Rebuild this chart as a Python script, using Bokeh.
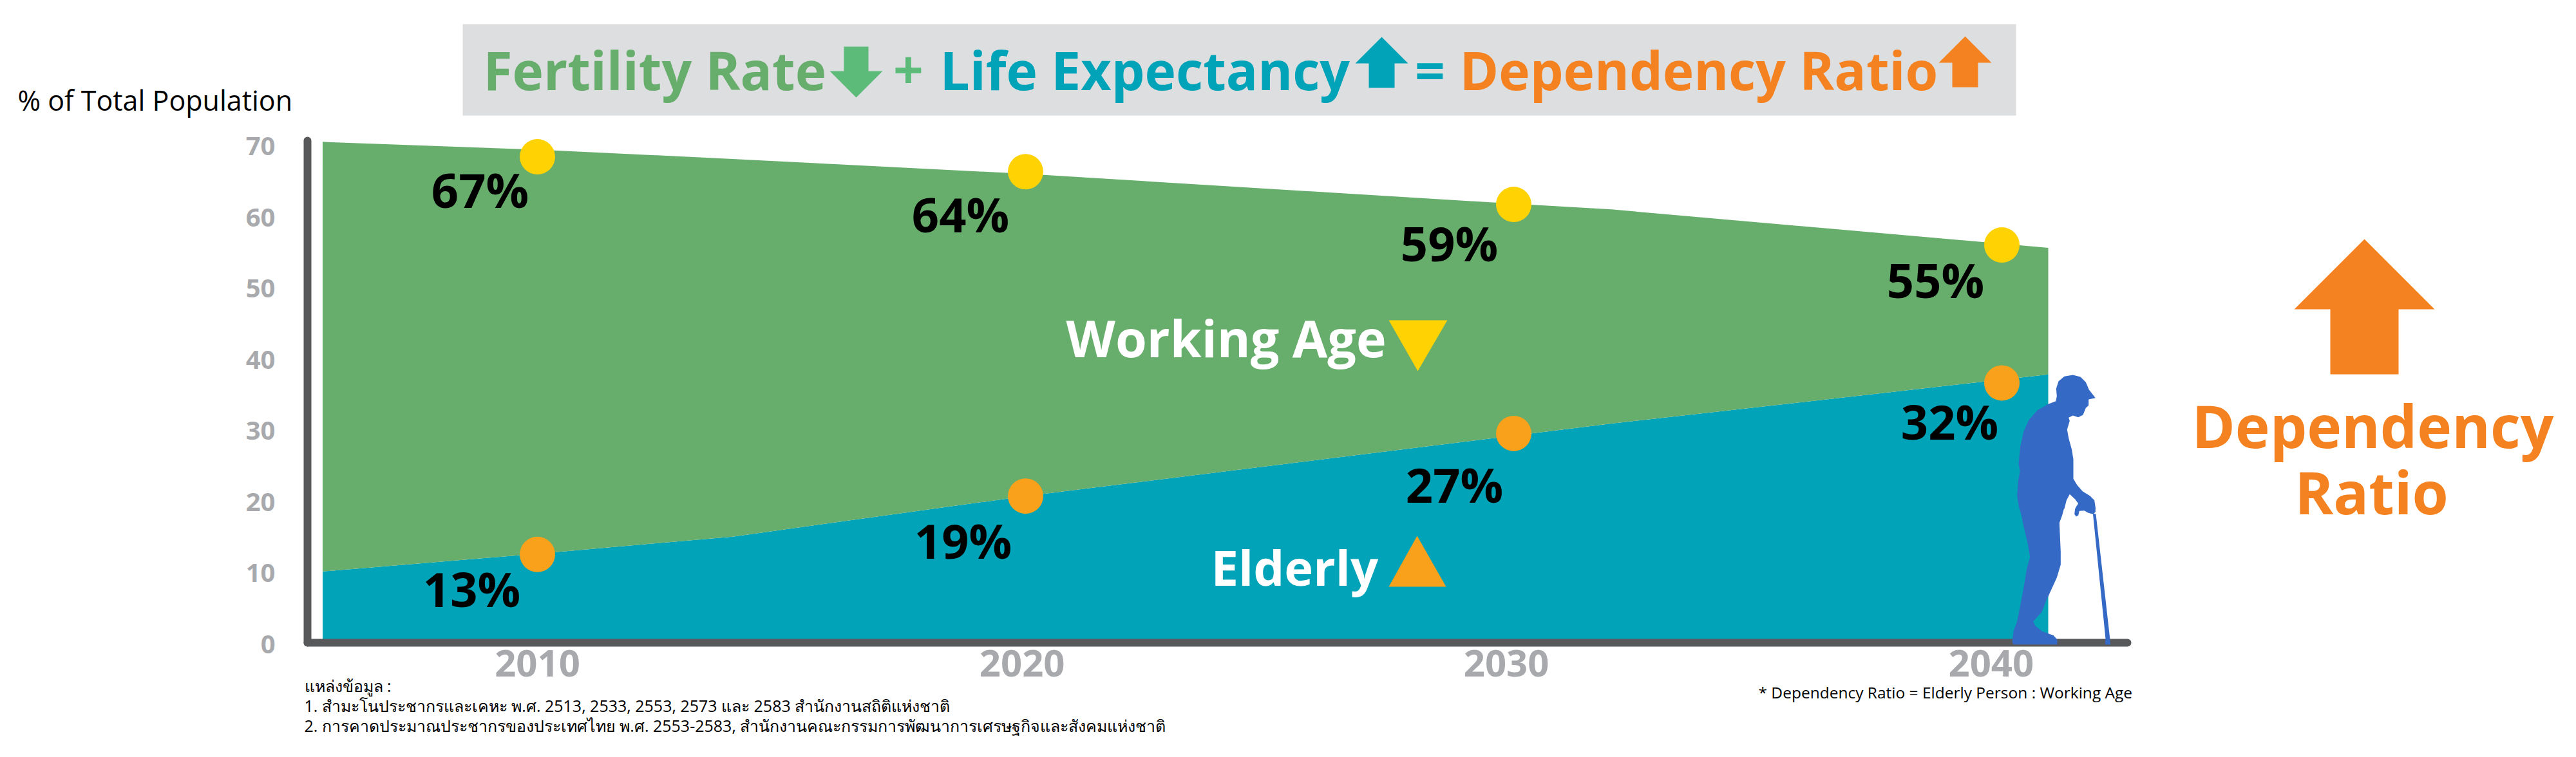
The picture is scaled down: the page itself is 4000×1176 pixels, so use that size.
from bokeh.plotting import figure
from bokeh.embed import file_html
from bokeh.resources import INLINE
from bokeh.models import Label, PolyAnnotation, FixedTicker, Range1d, LinearAxis

# ---- data
area_years = [2005.6, 2010, 2014, 2020, 2030, 2032, 2040.95]
elderly_area = [10.2, 12.7, 15.1, 20.8, 29.3, 31.0, 37.9]
working_top_area = [70.6, 69.5, 68.2, 66.1, 61.9, 61.1, 55.7]
years = [2010, 2020, 2030, 2040]
year_label_positions = [2010, 2019.93, 2029.85, 2039.78]
year_labels = ["2010", "2020", "2030", "2040"]
working_dots = [68.5, 66.4, 61.8, 56.1]
elderly_dots = [12.6, 20.8, 29.6, 36.7]
working_labels = ["67%", "64%", "59%", "55%"]
elderly_labels = ["13%", "19%", "27%", "32%"]
y_ticks = [0, 10, 20, 30, 40, 50, 60, 70]

GREEN, TEAL, ORANGE, AMBER, YELLOW = "#67AD6B", "#00A3B7", "#F58220", "#F9A11B", "#FFD204"
ARROW_GREEN, DARK, GRAY, BAND, BLUE = "#5DBB7A", "#58595B", "#A7A9AC", "#DCDEE0", "#3569C6"
FONT = "Open Sans"

W, H = 3984, 1160
PX_YEAR, X0 = 75.8, 834
PX_UNIT, Y0 = 11.05, 1000
BASE = 0.37   # Label's alphabetic anchor sits this many font sizes above the given y
def dx(px): return 2010 + (px - X0) / PX_YEAR
def dy(py): return (Y0 - py) / PX_UNIT

p = figure(width=W, height=H, output_backend="svg", toolbar_location=None,
           x_range=Range1d(dx(0), dx(W)), y_range=Range1d(dy(H), dy(0)),
           x_axis_type=None, y_axis_type=None, min_border=0)
p.outline_line_color = None
p.background_fill_color = "white"

p.varea(area_years, [0] * len(area_years), elderly_area, fill_color=TEAL)
p.varea(area_years, elderly_area, working_top_area, fill_color=GREEN)
p.scatter(years, working_dots, size=55, color=YELLOW, line_color=None)
p.scatter(years, elderly_dots, size=55, color=AMBER, line_color=None)

xaxis = LinearAxis(fixed_location=dy(998), bounds=(dx(477), dx(3303)), ticker=FixedTicker(ticks=year_label_positions),
                   major_label_overrides=dict(zip(year_label_positions, year_labels)))
yaxis = LinearAxis(fixed_location=dx(477), bounds=(dy(998), dy(218)), ticker=FixedTicker(ticks=y_ticks))
for ax in (xaxis, yaxis):
    ax.axis_line_color = DARK
    ax.axis_line_width = 12
    ax.axis_line_cap = "round"
    ax.major_tick_line_color = None
    ax.minor_tick_line_color = None
    ax.major_tick_out = 0
    ax.major_tick_in = 0
    ax.major_label_text_color = GRAY
    ax.major_label_text_font = FONT
    ax.major_label_text_font_style = "bold"
xaxis.major_label_text_font_size = "58px"
yaxis.major_label_text_font_size = "40px"
xaxis.major_label_standoff = 11
yaxis.major_label_standoff = 50
p.add_layout(xaxis, "below")
p.add_layout(yaxis, "left")

def poly(points, color):
    p.add_layout(PolyAnnotation(xs=[dx(a) for a, _ in points], ys=[dy(b) for _, b in points],
                                fill_color=color, fill_alpha=1, line_color=None, level="overlay"))

def text(px, py, s, size, color="black", style="normal", align="left"):
    p.add_layout(Label(x=dx(px), y=dy(py - BASE * size), text=s, text_font=FONT, text_font_size=f"{size}px",
                       text_font_style=style, text_color=color, text_align=align,
                       text_baseline="alphabetic", level="overlay"))

def arrow(cx, tip, neck, end, head, shaft, color):
    poly([(cx, tip), (cx + head, neck), (cx + shaft, neck), (cx + shaft, end),
          (cx - shaft, end), (cx - shaft, neck), (cx - head, neck)], color)

# header band
poly([(718, 37), (3130, 37), (3130, 179), (718, 179)], BAND)
text(750, 138, "Fertility Rate", 82, GREEN, "bold")
arrow(1329, 151, 110, 72, 41, 19, ARROW_GREEN)
text(1410, 138, "+", 82, ARROW_GREEN, "bold", "center")
text(1459, 138, "Life Expectancy", 82, TEAL, "bold")
arrow(2145, 57, 98, 136, 41, 20, TEAL)
text(2220, 138, "=", 82, TEAL, "bold", "center")
text(2266, 138, "Dependency Ratio", 82, ORANGE, "bold")
arrow(3051, 56, 97, 135, 41, 20, ORANGE)

text(27, 171, "% of Total Population", 43)

# percentage labels, tied to their dots
PCT = 74
for yr, v, s, (ox, oy) in zip(years, working_dots, working_labels, [(-89, 78), (-101, 93), (-100, 87), (-103, 81)]):
    p.add_layout(Label(x=yr, y=v, text=s, x_offset=ox, y_offset=-oy + BASE * PCT, text_align="center", text_baseline="alphabetic",
                       text_font=FONT, text_font_style="bold", text_font_size=f"{PCT}px", text_color="black", level="overlay"))
for yr, v, s, (ox, oy) in zip(years, elderly_dots, elderly_labels, [(-102, 81), (-97, 96), (-92, 106), (-81, 87)]):
    p.add_layout(Label(x=yr, y=v, text=s, x_offset=ox, y_offset=-oy + BASE * PCT, text_align="center", text_baseline="alphabetic",
                       text_font=FONT, text_font_style="bold", text_font_size=f"{PCT}px", text_color="black", level="overlay"))

# series names
text(1655, 553, "Working Age", 79, "white", "bold")
poly([(2156, 497), (2247, 497), (2201, 576)], YELLOW)
text(1880, 908, "Elderly", 76, "white", "bold")
poly([(2156, 911), (2245, 911), (2200, 832)], AMBER)

# man, traced on zooms of the picture
legs_left = [(42,622),(48,570),(65,525),(80,450),(95,370),(110,280),(125,225),(115,165),(95,80),(85,30),(77,0)]
upper_body = [(75,660),(65,600),(70,530),(78,485),(72,450),(80,370),(95,300),(120,245),(160,200),(210,172),(245,158),
              (250,135),(247,100),(258,65),(285,43),(325,36),(360,45),(385,70),(400,105),(430,143),(398,150),(398,178),
              (385,190),(372,222),(350,233),(325,225),(305,235),(310,250),(298,290),(305,330),(320,385),(327,430),
              (327,520),(345,550),(370,578),(405,600),(425,620),(431,660)]
hand = [(430,0),(430,15),(418,25),(395,18),(378,8),(355,10),(350,30),(340,36),(332,25),(335,0)]
arm_gap = [(340,650),(350,635),(335,615),(310,592),(295,620),(285,660)]
legs_right = [(283,0),(275,30),(262,65),(268,200),(268,260),(250,320),(225,375),(200,430),(180,480),(140,525),(150,545),
              (180,570),(235,590),(252,610),(252,632),(50,632)]
cane = [(418,20),(432,25),(498,610),(500,632),(475,632),(477,605)]
up = lambda pts: [(3110 + a / 3, 570 + b / 3) for a, b in pts]
lo = lambda pts: [(3110 + a / 3, 790 + b / 3) for a, b in pts]
poly(lo(legs_left) + up(upper_body) + lo(hand) + up(arm_gap) + lo(legs_right), BLUE)
poly(lo(cane), BLUE)

# right hand side
arrow(3671, 371, 480, 581, 109, 53, ORANGE)
text(3684, 694, "Dependency", 91, ORANGE, "bold", "center")
text(3682, 797, "Ratio", 91, ORANGE, "bold", "center")

# notes
text(472, 1074, "แหล่งข้อมูล :", 25)
text(472, 1105, "1. สำมะโนประชากรและเคหะ พ.ศ. 2513, 2533, 2553, 2573 และ 2583 สำนักงานสถิติแห่งชาติ", 25)
text(472, 1136, "2. การคาดประมาณประชากรของประเทศไทย พ.ศ. 2553-2583, สำนักงานคณะกรรมการพัฒนาการเศรษฐกิจและสังคมแห่งชาติ", 25)
text(2730, 1084, "* Dependency Ratio = Elderly Person : Working Age", 24.5)

open("out.html", "w").write(file_html(p, INLINE))
